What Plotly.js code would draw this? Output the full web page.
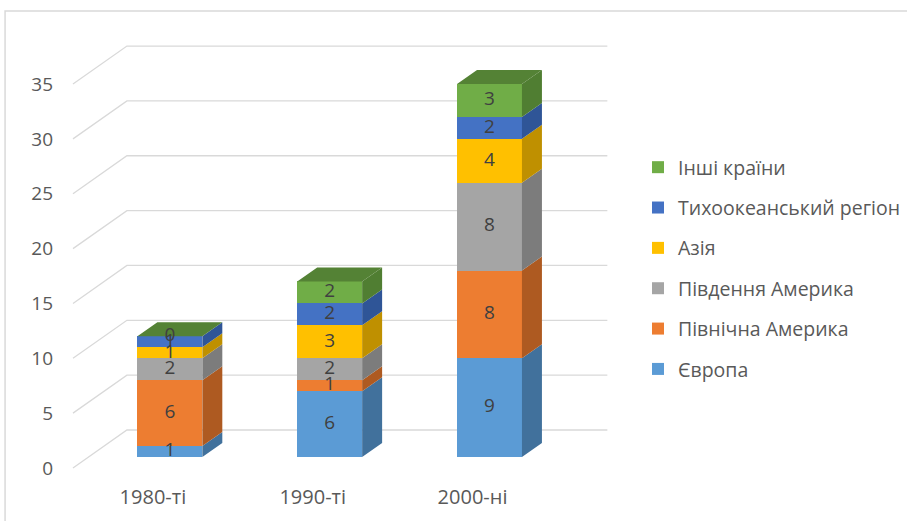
<!DOCTYPE html>
<html>
<head>
<meta charset="utf-8">
<script src="https://cdn.plot.ly/plotly-3.0.1.min.js"></script>
<style>html,body{margin:0;padding:0;background:#fff;}#chart{width:907px;height:521px;}</style>
</head>
<body>
<div id="chart"></div>
<script>
// ---- data ----
const categories = ['1980-ті', '1990-ті', '2000-ні'];
const seriesNames = ['Європа', 'Північна Америка', 'Південня Америка', 'Азія', 'Тихоокеанський регіон', 'Інші країни'];
const europe = [1, 6, 9];
const northAmerica = [6, 1, 8];
const southAmerica = [2, 2, 8];
const asia = [1, 3, 4];
const pacific = [1, 2, 2];
const others = [0, 2, 3];
const yTicks = [0, 5, 10, 15, 20, 25, 30, 35];

// ---- style ----
const frontColors = ['#5b9bd5', '#ed7d31', '#a5a5a5', '#ffc000', '#4472c4', '#70ad47'];
const sideColors  = ['#41719c', '#ae5a21', '#7c7c7c', '#bf9000', '#2f5597', '#507e32'];
const topColor = '#548235';
const series = [europe, northAmerica, southAmerica, asia, pacific, others];
const FONT = 'Open Sans, sans-serif';

// geometry (plot area pixels)
const L = 60, R = 905, T = 20, B = 483, W = R - L, H = B - T;
const baseY = 457, centerX0 = 170;
const pxPerCat = 160, pxPerUnit = 10.97;
const xRange = [(L - centerX0) / pxPerCat, (R - centerX0) / pxPerCat];
const yRange = [-(B - baseY) / pxPerUnit, (baseY - T) / pxPerUnit];
const barW = 65 / pxPerCat, hw = barW / 2;
const dx = 20 / pxPerCat, dy = 14 / pxPerUnit;            // bar depth
const frontDX = -17 / pxPerCat, frontDY = -11 / pxPerUnit; // floor front edge
const backDY = 27 / pxPerUnit;                              // back wall
const wallFrontX = (73 - centerX0) / pxPerCat;
const wallBackX = (127 - centerX0) / pxPerCat;
const wallRightX = (608 - centerX0) / pxPerCat;

const xs = categories.map((c, i) => i);
const traces = [];

// front faces (bars)
series.forEach((vals, k) => {
  traces.push({
    type: 'bar', x: xs, y: vals, width: barW, name: seriesNames[k],
    legendgroup: 'g' + k, legendrank: series.length - k,
    marker: {color: frontColors[k], line: {width: 0}},
    hoverinfo: 'skip'
  });
});

// cumulative bases
const bases = series.map((vals, k) => vals.map((v, i) => series.slice(0, k).reduce((s, a) => s + a[i], 0)));

// side faces
series.forEach((vals, k) => {
  const px = [], py = [];
  vals.forEach((v, i) => {
    const y0 = bases[k][i], y1 = y0 + v, xr = i + hw;
    px.push(xr, xr, xr + dx, xr + dx, xr, null);
    py.push(y0, y1, y1 + dy, y0 + dy, y0, null);
  });
  traces.push({type: 'scatter', mode: 'lines', x: px, y: py, fill: 'toself',
    fillcolor: sideColors[k], line: {width: 0, color: sideColors[k]}, showlegend: false, hoverinfo: 'skip'});
});

// top faces
(function () {
  const px = [], py = [];
  const last = series.length - 1;
  xs.forEach((x, i) => {
    const top = bases[last][i] + series[last][i];
    px.push(x - hw, x + hw, x + hw + dx, x - hw + dx, x - hw, null);
    py.push(top, top, top + dy, top + dy, top, null);
  });
  traces.push({type: 'scatter', mode: 'lines', x: px, y: py, fill: 'toself',
    fillcolor: topColor, line: {width: 0, color: topColor}, showlegend: false, hoverinfo: 'skip'});
})();

// data labels
series.forEach((vals, k) => {
  traces.push({type: 'scatter', mode: 'text', x: xs,
    y: vals.map((v, i) => bases[k][i] + v / 2),
    text: vals.map(v => String(v)),
    textfont: {family: FONT, size: 19, color: '#404040'},
    showlegend: false, hoverinfo: 'skip'});
});

// gridlines (wall)
const shapes = yTicks.map(v => ({
  type: 'path', xref: 'x', yref: 'y', layer: 'below',
  path: 'M' + wallFrontX + ',' + (v + frontDY) + ' L' + wallBackX + ',' + (v + backDY) + ' L' + wallRightX + ',' + (v + backDY),
  line: {color: '#d9d9d9', width: 1.3}
}));
// chart border
shapes.push({type: 'path', xref: 'paper', yref: 'paper', layer: 'below',
  path: 'M' + ((5 - L) / W) + ',' + ((B - 560) / H) + ' L' + ((5 - L) / W) + ',' + ((B - 11) / H) + ' L' + ((1000 - L) / W) + ',' + ((B - 11) / H),
  line: {color: '#d9d9d9', width: 1.5}});

const layout = {
  width: 907, height: 521,
  margin: {l: L, r: 907 - R, t: T, b: 521 - B},
  paper_bgcolor: '#ffffff', plot_bgcolor: 'rgba(0,0,0,0)',
  barmode: 'stack',
  showlegend: true,
  font: {family: FONT, color: '#595959', size: 19},
  xaxis: {range: xRange, showgrid: false, zeroline: false, showline: false, ticks: '',
    tickvals: xs.map(x => x + frontDX), ticktext: categories,
    tickfont: {size: 20, color: '#595959'}, ticklabelstandoff: 0, fixedrange: true},
  yaxis: {range: yRange, showgrid: false, zeroline: false, showline: false, ticks: '',
    tickvals: yTicks.map(v => v + frontDY), ticktext: yTicks.map(String),
    tickfont: {size: 19, color: '#595959'}, ticklabelstandoff: 6, fixedrange: true},
  legend: {x: (638 - L) / W, y: (B - 148) / H, xanchor: 'left', yanchor: 'top',
    traceorder: 'grouped', tracegroupgap: 12,
    font: {size: 19.5, color: '#595959'}, bgcolor: 'rgba(0,0,0,0)'},
  shapes: shapes
};

Plotly.newPlot('chart', traces, layout, {staticPlot: true, displayModeBar: false});
</script>
</body>
</html>
